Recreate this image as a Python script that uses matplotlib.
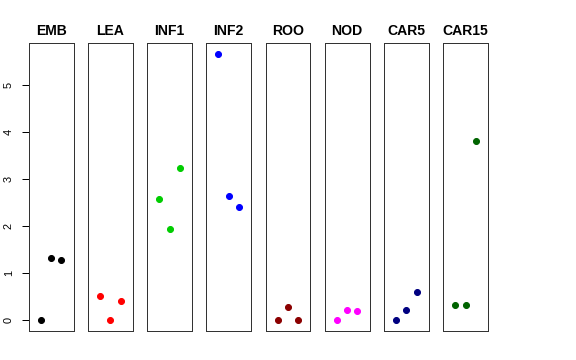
import matplotlib
matplotlib.use("Agg")
import matplotlib.pyplot as plt

plt.rcParams['font.family'] = ['Liberation Sans', 'DejaVu Sans']

# tissues and their three replicate values
tissues = ["EMB", "LEA", "INF1", "INF2", "ROO", "NOD", "CAR5", "CAR15"]
values = [
    [0.0, 1.32, 1.27],
    [0.52, 0.0, 0.42],
    [2.57, 1.94, 3.24],
    [5.66, 2.64, 2.40],
    [0.0, 0.28, 0.0],
    [0.0, 0.22, 0.19],
    [0.0, 0.22, 0.60],
    [0.33, 0.33, 3.80],
]
colors = ["black", "#FF0000", "#00CD00", "#0000FF", "#8B0000", "#FF00FF", "#000080", "#006400"]
reps = [1, 2, 3]

W, H = 576, 360
fig = plt.figure(figsize=(W / 72, H / 72), dpi=72)

ymax = max(max(v) for v in values)
ypad = 0.04 * ymax
left0, step, width = 28.7, 59.2, 44.8
top, bottom = 43, 331

for i, (name, vals, col) in enumerate(zip(tissues, values, colors)):
    ax = fig.add_axes([(left0 + i * step) / W, (H - bottom) / H, width / W, (bottom - top) / H])
    ax.plot(reps, vals, 'o', color=col, ms=6, mec=col)
    ax.set_xlim(-0.16, 4.16)
    ax.set_ylim(-ypad, ymax + ypad)
    ax.set_xticks([])
    ax.set_title(name, fontsize=14, fontweight='bold', pad=8)
    for sp in ax.spines.values():
        sp.set_linewidth(1)
        sp.set_color('#333333')
    if i == 0:
        ax.set_yticks(range(0, 6))
        ax.tick_params(axis='y', length=7, width=1, pad=8, labelsize=11, colors='black')
        for lab in ax.get_yticklabels():
            lab.set_rotation(90)
            lab.set_va('center')
        ax.spines['left'].set_visible(True)
    else:
        ax.set_yticks([])

fig.savefig("out.png", dpi=72)
